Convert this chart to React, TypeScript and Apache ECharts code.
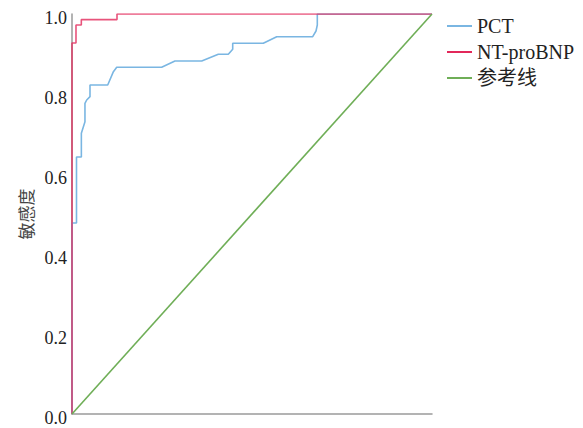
import React, { useEffect, useRef } from "react";
import * as echarts from "echarts";

const seriesNames = ["PCT", "NT-proBNP", "参考线"];

const pctFpr = [0, 0, 0.0125, 0.0125, 0.026, 0.026, 0.036, 0.036, 0.0408, 0.05, 0.05, 0.0992, 0.115, 0.1242, 0.249, 0.286, 0.3603, 0.4064, 0.4342, 0.4464, 0.4464, 0.5314, 0.5686, 0.6686, 0.6778, 0.6814, 0.6814, 1];
const pctSens = [0, 0.4775, 0.4775, 0.6425, 0.6425, 0.7017, 0.7308, 0.7767, 0.785, 0.7933, 0.8225, 0.8225, 0.8558, 0.8668, 0.8668, 0.8825, 0.8825, 0.8993, 0.8993, 0.9118, 0.9268, 0.9268, 0.9433, 0.9433, 0.9575, 0.9725, 1, 1];

const ntFpr = [0, 0, 0.0111, 0.0111, 0.0259, 0.0259, 0.125, 0.125, 1];
const ntSens = [0, 0.9275, 0.9275, 0.9725, 0.9725, 0.986, 0.986, 1, 1];

const refFpr = [0, 1];
const refSens = [0, 1];

const yTicks = [0, 0.2, 0.4, 0.6, 0.8, 1.0];

const colors = ["#7ab6e2", "#e2285a", "#6fae57"];

const pairs = (xs: number[], ys: number[]) => xs.map((x, i) => [x, ys[i]]);

export default function App() {
  const ref = useRef<HTMLDivElement>(null);
  useEffect(() => {
    if (!ref.current) return;
    document.body.style.margin = "0";
    const chart = echarts.init(ref.current, null, { renderer: "svg" });
    const serif = "'Liberation Serif', 'Times New Roman', 'Noto Sans CJK SC', serif";
    chart.setOption({
      animation: false,
      grid: { left: 72, right: 151, top: 14, bottom: 14, containLabel: false },
      legend: {
        orient: "vertical",
        left: 442,
        top: 11,
        itemWidth: 25,
        itemHeight: 10,
        itemGap: 6,
        data: seriesNames.map((n, i) => ({
          name: n,
          icon: "path://M0,4 L25,4 L25,6 L0,6 Z",
          itemStyle: { color: colors[i] },
        })),
        textStyle: { fontFamily: serif, fontSize: 20, color: "#222" },
      },
      xAxis: {
        type: "value",
        min: 0,
        max: 1,
        axisLine: { show: true, lineStyle: { color: "#9a9a9a", width: 1.5 } },
        axisTick: { show: false },
        axisLabel: { show: false },
        splitLine: { show: false },
      },
      yAxis: {
        type: "value",
        min: 0,
        max: 1,
        interval: 0.2,
        name: "敏感度",
        nameLocation: "middle",
        nameGap: 38,
        nameTextStyle: { fontFamily: "'Noto Sans CJK SC', sans-serif", fontSize: 17, color: "#444" },
        axisLine: { show: true, lineStyle: { color: "#9a9a9a", width: 1.5 } },
        axisTick: { show: false },
        splitLine: { show: false },
        axisLabel: {
          margin: 5,
          formatter: (v: number) => {
            const t = yTicks.find((k) => Math.abs(k - v) < 1e-6);
            return t === undefined ? "" : "{v|" + t.toFixed(1) + "}";
          },
          rich: {
            v: {
              fontFamily: serif,
              fontSize: 18,
              color: "#222",
              padding: [8, 0, 0, 0],
            },
          },
        },
      },
      series: [
        {
          name: seriesNames[0],
          type: "line",
          data: pairs(pctFpr, pctSens),
          showSymbol: false,
          symbol: "none",
          lineStyle: { color: colors[0], width: 1.6 },
          itemStyle: { color: colors[0] },
          z: 2,
        },
        {
          name: seriesNames[1],
          type: "line",
          data: pairs(ntFpr, ntSens),
          showSymbol: false,
          symbol: "none",
          lineStyle: { color: colors[1], width: 1.6, opacity: 0.8 },
          itemStyle: { color: colors[1] },
          z: 3,
        },
        {
          name: seriesNames[2],
          type: "line",
          data: pairs(refFpr, refSens),
          showSymbol: false,
          symbol: "none",
          lineStyle: { color: colors[2], width: 1.6 },
          itemStyle: { color: colors[2] },
          z: 4,
        },
      ],
    });
    return () => chart.dispose();
  }, []);
  return <div ref={ref} style={{ width: 583, height: 428 }} />;
}
